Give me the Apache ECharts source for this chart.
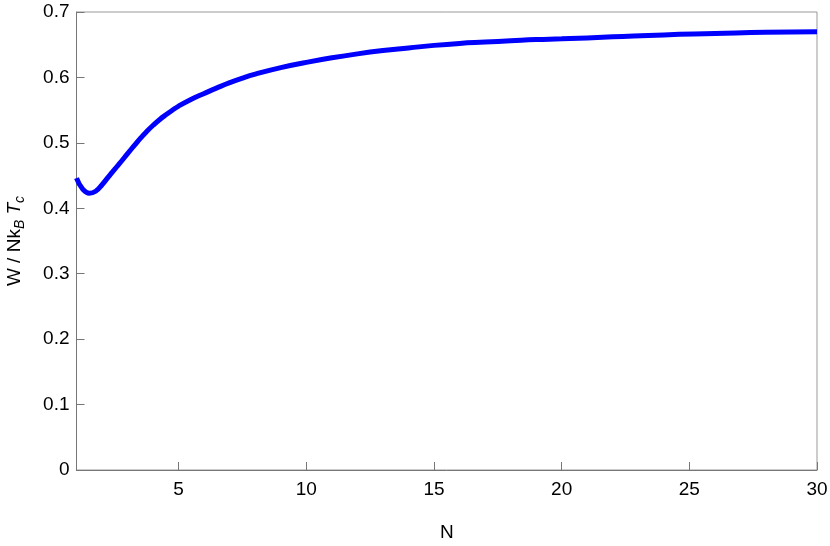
<!DOCTYPE html>
<html>
<head>
<meta charset="utf-8">
<script src="https://cdn.jsdelivr.net/npm/echarts@6/dist/echarts.min.js"></script>
<style>
html,body{margin:0;padding:0;background:#fff;}
#chart{width:830px;height:546px;}
</style>
</head>
<body>
<div id="chart"></div>
<script>
const nValues = [1, 1.25, 1.5, 1.75, 2, 2.25, 2.5, 2.75, 3, 3.25, 3.5, 3.75, 4, 4.25, 4.5, 4.75, 5, 5.5, 6, 6.5, 7, 7.5, 8, 9, 10, 11, 12, 13, 14, 15, 16, 17, 18, 19, 20, 22, 24, 26, 28, 30];
const wValues = [0.446, 0.429, 0.423, 0.426, 0.436, 0.448, 0.460, 0.4715, 0.4835, 0.4953, 0.5069, 0.5174, 0.5269, 0.5354, 0.5429, 0.5498, 0.5562, 0.5667, 0.5755, 0.584, 0.592, 0.599, 0.605, 0.615, 0.623, 0.630, 0.636, 0.641, 0.645, 0.649, 0.652, 0.654, 0.656, 0.658, 0.659, 0.662, 0.665, 0.667, 0.669, 0.670];
const xTicks = [5, 10, 15, 20, 25, 30];
const yTicks = [0, 0.1, 0.2, 0.3, 0.4, 0.5, 0.6, 0.7];

const chart = echarts.init(document.getElementById('chart'));
const font = 'Liberation Sans, Arial, sans-serif';
chart.setOption({
  animation: false,
  grid: {left: 76.5, right: 13, top: 12, bottom: 76, show: true, borderColor: '#999', borderWidth: 1,
    outerBoundsMode: 'none', containLabel: false},
  xAxis: {
    type: 'value', min: 1, max: 30,
    name: 'N', nameLocation: 'middle', nameGap: 53,
    nameTextStyle: {fontFamily: font, fontSize: 19, color: '#000'},
    axisLine: {onZero: false, lineStyle: {color: '#777', width: 1}},
    axisTick: {inside: true, length: 8, customValues: xTicks, lineStyle: {color: '#777'}},
    axisLabel: {customValues: xTicks, margin: 10, fontFamily: font, fontSize: 19, color: '#000'},
    splitLine: {show: false}
  },
  yAxis: {
    type: 'value', min: 0, max: 0.7, interval: 0.1,
    name: '{a|W / Nk}{s|B}{t| T}{s|c}', nameLocation: 'middle', nameGap: 51, nameRotate: 90,
    nameTextStyle: {
      fontFamily: font, fontSize: 19, color: '#000',
      rich: {
        a: {fontFamily: font, fontSize: 19, color: '#000', lineHeight: 22},
        t: {fontFamily: font, fontSize: 19, fontStyle: 'italic', color: '#000', lineHeight: 22},
        s: {fontFamily: font, fontSize: 14, fontStyle: 'italic', color: '#000', padding: [11, 0, 0, 0], lineHeight: 14}
      }
    },
    axisLine: {show: true, lineStyle: {color: '#777', width: 1}},
    axisTick: {inside: true, length: 8, lineStyle: {color: '#777'}},
    axisLabel: {margin: 7, fontFamily: font, fontSize: 19, color: '#000',
      formatter: v => String(Math.round(v * 10) / 10)},
    splitLine: {show: false}
  },
  series: [{
    type: 'line',
    data: nValues.map((n, i) => [n, wValues[i]]),
    smooth: 0.5,
    showSymbol: false,
    lineStyle: {color: '#0000ff', width: 5},
    clip: true
  }]
});
</script>
</body>
</html>
